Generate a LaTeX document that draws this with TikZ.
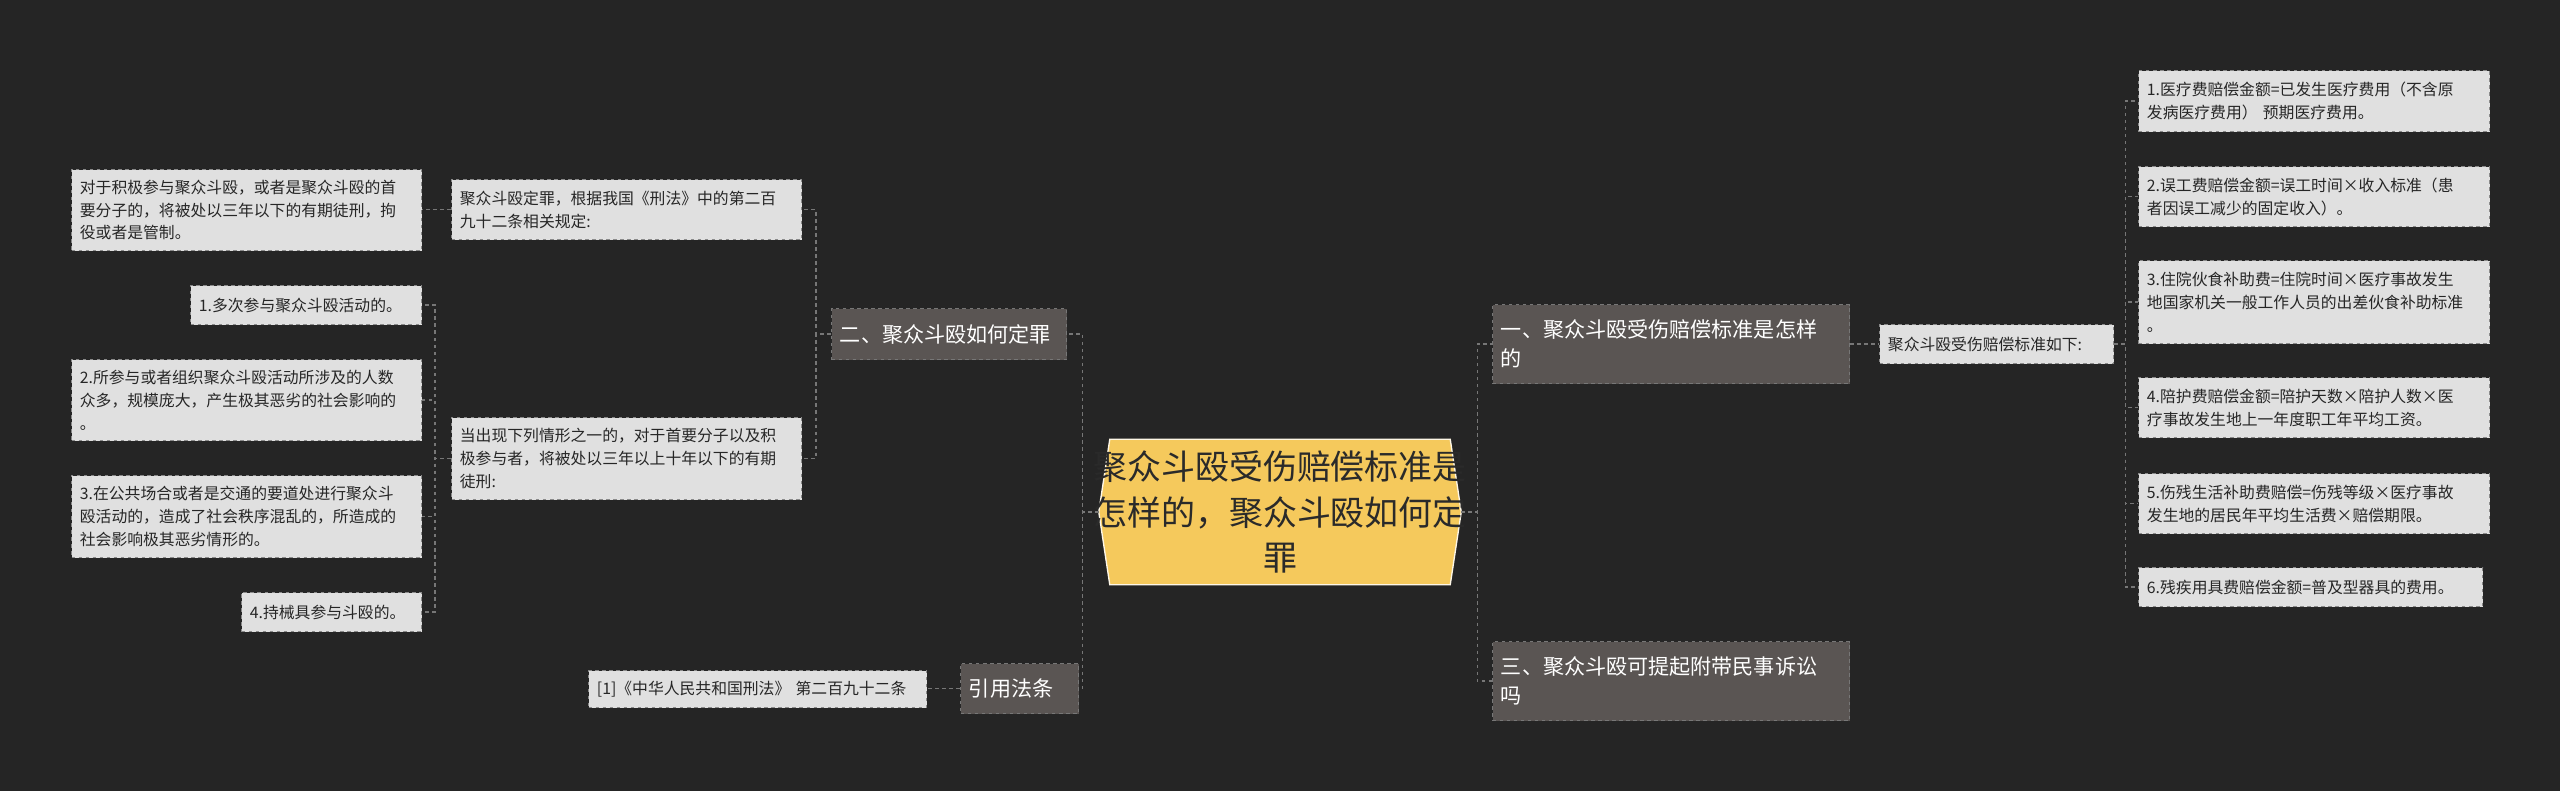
\documentclass[tikz,border=0pt]{standalone}
\usepackage{fontspec}
\setmainfont{Noto Sans CJK SC}
\usetikzlibrary{calc}
\definecolor{bg}{HTML}{252525}
\definecolor{leaffill}{HTML}{E0E0E0}
\definecolor{leafline}{HTML}{8A8A8A}
\definecolor{brfill}{HTML}{5A5553}
\definecolor{conncol}{HTML}{777777}
\definecolor{centfill}{HTML}{F5C95C}
\definecolor{centtext}{HTML}{2A2A2A}
\tikzset{
 leaf/.style={fill=leaffill,draw=leafline,dashed,line width=0.35mm,inner xsep=2.5mm,inner ysep=1mm,align=left,text=black!85,font=\fontsize{13.5}{19.5}\selectfont},
 branch/.style={fill=brfill,draw=conncol,dashed,line width=0.35mm,inner xsep=2.5mm,inner ysep=1mm,align=left,text=white,font=\fontsize{18}{25}\selectfont},
 conn/.style={draw=conncol,dashed,line width=0.4mm}
}
\newcommand\mybox[7]{%
 \pgfmathsetmacro\bw{(#5-#3)*0.3}\pgfmathsetmacro\bh{(#6-#4)*0.3}\pgfmathsetmacro\tw{(#5-#3)*0.3-5}%
 \node[#1,anchor=north west,minimum width=\bw mm,minimum height=\bh mm,text width=\tw mm] (#2) at (#3,#4) {#7};}
\begin{document}
\begin{tikzpicture}[x=0.3mm,y=-0.3mm]
\fill[bg] (0,0) rectangle (2560,791);
\useasboundingbox (0,0) rectangle (2560,791);
% centre
\node[minimum width=108.6mm,minimum height=43.5mm,inner sep=0] (c) at (1280,512) {};
\fill[centfill,draw=white!85!centfill,line width=0.4mm] (c.west) -- ($(c.north west)+(11,0)$) -- ($(c.north east)+(-11,0)$) -- (c.east) -- ($(c.south east)+(-11,0)$) -- ($(c.south west)+(11,0)$) -- cycle;
\node[align=center,text=centtext,font=\fontsize{29}{39}\selectfont] (ct) at (c) {聚众斗殴受伤赔偿标准是\\怎样的，聚众斗殴如何定\\罪};
% right branches
\mybox{branch}{b1}{1492}{304}{1849}{383}{一、聚众斗殴受伤赔偿标准是怎样\\的}
\mybox{branch}{b3}{1492}{641}{1849}{720}{三、聚众斗殴可提起附带民事诉讼\\吗}
\mybox{leaf}{rr}{1879}{324}{2113}{363}{聚众斗殴受伤赔偿标准如下:}
\mybox{leaf}{r1}{2138}{70}{2489}{131}{1.医疗费赔偿金额=已发生医疗费用（不含原\\发病医疗费用） 预期医疗费用。}
\mybox{leaf}{r2}{2138}{166}{2489}{226}{2.误工费赔偿金额=误工时间×收入标准（患\\者因误工减少的固定收入）。}
\mybox{leaf}{r3}{2138}{260}{2489}{343}{3.住院伙食补助费=住院时间×医疗事故发生\\地国家机关一般工作人员的出差伙食补助标准\\。}
\mybox{leaf}{r4}{2138}{377}{2489}{437}{4.陪护费赔偿金额=陪护天数×陪护人数×医\\疗事故发生地上一年度职工年平均工资。}
\mybox{leaf}{r5}{2138}{473}{2489}{533}{5.伤残生活补助费赔偿=伤残等级×医疗事故\\发生地的居民年平均生活费×赔偿期限。}
\mybox{leaf}{r6}{2138}{567}{2482}{606}{6.残疾用具费赔偿金额=普及型器具的费用。}
% left branches
\mybox{branch}{b2}{831}{308}{1066}{359}{二、聚众斗殴如何定罪}
\mybox{branch}{b4}{960}{663}{1078}{713}{引用法条}
\mybox{leaf}{cite}{588}{670}{926}{707}{[1]《中华人民共和国刑法》 第二百九十二条}
\mybox{leaf}{m1}{451}{179}{801}{239}{聚众斗殴定罪，根据我国《刑法》中的第二百\\九十二条相关规定:}
\mybox{leaf}{m2}{451}{417}{801}{499}{当出现下列情形之一的，对于首要分子以及积\\极参与者，将被处以三年以上十年以下的有期\\徒刑:}
\mybox{leaf}{l0}{71}{169}{421}{250}{对于积极参与聚众斗殴，或者是聚众斗殴的首\\要分子的，将被处以三年以下的有期徒刑，拘\\役或者是管制。}
\mybox{leaf}{l1}{190}{285}{421}{324}{1.多次参与聚众斗殴活动的。}
\mybox{leaf}{l2}{71}{359}{421}{440}{2.所参与或者组织聚众斗殴活动所涉及的人数\\众多，规模庞大，产生极其恶劣的社会影响的\\。}
\mybox{leaf}{l3}{71}{475}{421}{557}{3.在公共场合或者是交通的要道处进行聚众斗\\殴活动的，造成了社会秩序混乱的，所造成的\\社会影响极其恶劣情形的。}
\mybox{leaf}{l4}{241}{592}{421}{631}{4.持械具参与斗殴的。}
% connectors
\draw[conn] (c.east) -- ++(16,0) |- (b1.west);
\draw[conn] (c.east) -- ++(16,0) |- (b3.west);
\draw[conn] (b1.east |- rr.west) -- (rr.west);
\foreach \n in {r1,r2,r3,r4,r5,r6} \draw[conn] (rr.east) -- ++(11,0) |- (\n.west);
\draw[conn] (c.west) -- ++(-16,0) |- (b2.east);
\draw[conn] (c.west) -- ++(-16,0) |- (b4.east);
\draw[conn] (b4.west) -- (cite.east |- b4.west);
\draw[conn] (b2.west) -- ++(-15,0) |- (m1.east);
\draw[conn] (b2.west) -- ++(-15,0) |- (m2.east);
\draw[conn] (m1.west) -- (l0.east |- m1.west);
\foreach \n in {l1,l2,l3,l4} \draw[conn] (m2.west) -- ++(-16,0) |- (\n.east);
\end{tikzpicture}
\end{document}
